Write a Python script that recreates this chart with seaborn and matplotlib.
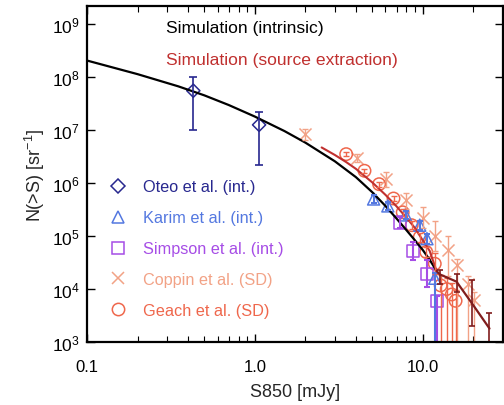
import numpy as np
import matplotlib
matplotlib.use("Agg")
import matplotlib.pyplot as plt
import matplotlib.ticker as mticker
from matplotlib.lines import Line2D
import seaborn as sns

# simulation curves (S850 in mJy, N(>S) in sr^-1)
sim_int_x = [0.1, 0.2, 0.35, 0.5, 0.7, 1.0, 1.5, 2.0, 3.0, 4.0, 5.0, 6.0, 7.0, 8.0, 9.0, 10.0, 11.0, 12.1]
sim_int_y = [2.04e8, 1.13e8, 6.65e7, 4.5e7, 2.95e7, 1.79e7, 9.55e6, 5.77e6, 2.56e6, 1.29e6,
             6.73e5, 3.69e5, 2.12e5, 1.29e5, 8.26e4, 5.48e4, 3.57e4, 2.19e4]

sim_sd_x = [2.5, 3.0, 3.5, 4.0, 5.0, 6.0, 7.0, 8.0, 9.0, 10.0, 11.0, 12.1]
sim_sd_y = [4.68e6, 3.37e6, 2.48e6, 1.85e6, 1.03e6, 5.98e5, 3.6e5, 2.22e5, 1.41e5, 8.3e4, 5.25e4, 2.19e4]

tail_x = [12.1, 12.6, 15.9, 19.8, 25.0]
tail_y = [2.19e4, 1.9e4, 1.38e4, 5.2e3, 1.8e3]
tail_lo = [2.19e4, 1.26e4, 8.9e3, 2.0e3, 1e2]
tail_hi = [2.19e4, 2.24e4, 1.95e4, 1.45e4, 3.5e3]

# observations
oteo_x = [0.43, 1.06]
oteo_y = [5.5e7, 1.25e7]
oteo_lo = [1.0e7, 2.2e6]
oteo_hi = [1.0e8, 2.2e7]

karim_x = [5.1, 6.2, 7.9, 9.6, 10.6, 11.8]
karim_y = [5.0e5, 3.7e5, 2.5e5, 1.6e5, 8.9e4, 1.6e4]
karim_lo = [4.2e5, 3.1e5, 2.1e5, 1.3e5, 7.2e4, 1e2]
karim_hi = [5.9e5, 4.4e5, 3.0e5, 1.9e5, 1.1e5, 2.0e4]

simpson_x = [7.3, 8.8, 10.6, 12.1]
simpson_y = [1.8e5, 5.2e4, 1.95e4, 5.9e3]
simpson_lo = [1.4e5, 3.5e4, 1.1e4, 1e2]
simpson_hi = [2.3e5, 7.7e4, 3.5e4, 7.5e3]

coppin_x = [2.0, 4.05, 6.07, 8.0, 10.1, 11.8, 14.2, 15.9, 18.6, 20.2]
coppin_y = [8.3e6, 3.0e6, 1.17e6, 4.7e5, 2.2e5, 1.0e5, 5.4e4, 2.8e4, 1.26e4, 6.2e3]
coppin_lo = [6.6e6, 2.5e6, 8.5e5, 3.3e5, 1.4e5, 5.3e4, 1.8e4, 1e2, 1e2, 1e2]
coppin_hi = [1.05e7, 3.6e6, 1.6e6, 6.6e5, 3.5e5, 1.9e5, 9.8e4, 3.7e4, 1.8e4, 8.9e3]

geach_x = [3.5, 4.5, 5.5, 6.7, 7.6, 8.6, 9.6, 10.5, 11.8, 12.8, 13.9, 14.9, 15.7]
geach_y = [3.5e6, 1.7e6, 9.5e5, 5.1e5, 2.8e5, 1.6e5, 9.5e4, 5.0e4, 3.0e4, 1.17e4, 1.0e4, 7.9e3, 6.0e3]
geach_lo = [3.2e6, 1.55e6, 8.5e5, 4.5e5, 2.4e5, 1.35e5, 7.8e4, 4.0e4, 1.9e4, 1e2, 1e2, 1e2, 1e2]
geach_hi = [3.8e6, 1.85e6, 1.06e6, 5.8e5, 3.2e5, 1.9e5, 1.15e5, 6.2e4, 4.7e4, 1.85e4, 1.6e4, 1.3e4, 9.5e3]

y_ticks = [1e3, 1e4, 1e5, 1e6, 1e7, 1e8, 1e9]
x_ticks = [0.1, 1, 10]
x_tick_labels = ["0.1", "1.0", "10.0"]

c_oteo = "#28288f"
c_karim = "#5478e0"
c_simpson = "#a64de6"
c_coppin = "#f2a286"
c_geach = "#ef674c"
c_sd = "#c0302f"
c_tail = "#801c1c"

sns.set_style("ticks")
plt.rcParams["font.family"] = ["Liberation Sans", "DejaVu Sans"]
plt.rcParams["mathtext.fontset"] = "custom"
plt.rcParams["mathtext.rm"] = "Liberation Sans"
plt.rcParams["mathtext.it"] = "Liberation Sans:italic"

fig = plt.figure(figsize=(5.04, 4.06), dpi=100)
ax = fig.add_axes([0.1726, 0.155, 0.825, 0.828])


def bars(x, y, lo, hi, color, lw=1.0, cap=2.5):
    x = np.array(x); y = np.array(y)
    err = [y - np.array(lo), np.array(hi) - y]
    ax.errorbar(x, y, yerr=err, fmt="none", ecolor=color, elinewidth=lw, capsize=cap, capthick=lw)


# simulation lines
sns.lineplot(x=sim_int_x, y=sim_int_y, color="black", lw=1.6, sort=False, ax=ax)
sns.lineplot(x=sim_sd_x, y=sim_sd_y, color=c_sd, lw=1.5, sort=False, ax=ax)

# observations
bars(coppin_x, coppin_y, coppin_lo, coppin_hi, c_coppin)
sns.scatterplot(x=coppin_x, y=coppin_y, marker="x", s=75, color=c_coppin, linewidth=1.1, ax=ax)
bars(geach_x, geach_y, geach_lo, geach_hi, c_geach)
sns.scatterplot(x=geach_x, y=geach_y, marker="o", s=80, facecolor="none", edgecolor=c_geach, linewidth=1.1, ax=ax)
bars(simpson_x, simpson_y, simpson_lo, simpson_hi, c_simpson, lw=1.5)
sns.scatterplot(x=simpson_x, y=simpson_y, marker="s", s=75, facecolor="none", edgecolor=c_simpson, linewidth=1.1, ax=ax)
bars(karim_x, karim_y, karim_lo, karim_hi, c_karim, lw=1.5)
sns.scatterplot(x=karim_x, y=karim_y, marker="^", s=75, facecolor="none", edgecolor=c_karim, linewidth=1.1, ax=ax)
bars(oteo_x, oteo_y, oteo_lo, oteo_hi, c_oteo, lw=1.2, cap=3)
sns.scatterplot(x=oteo_x, y=oteo_y, marker="D", s=45, facecolor="none", edgecolor=c_oteo, linewidth=1.1, ax=ax)

# overlapping tail of both simulations
sns.lineplot(x=tail_x, y=tail_y, color=c_tail, lw=1.6, sort=False, ax=ax)
bars(tail_x[1:], tail_y[1:], tail_lo[1:], tail_hi[1:], c_tail, lw=1.2, cap=2.5)

ax.set_xscale("log")
ax.set_yscale("log")
ax.set_xlim(0.1, 30)
ax.set_ylim(1e3, 10 ** 9.34)

ax.xaxis.set_major_locator(mticker.FixedLocator(x_ticks))
ax.xaxis.set_major_formatter(mticker.FixedFormatter(x_tick_labels))
ax.xaxis.set_minor_locator(mticker.LogLocator(base=10, subs=np.arange(2, 10)))
ax.xaxis.set_minor_formatter(mticker.NullFormatter())
ax.yaxis.set_major_locator(mticker.FixedLocator(y_ticks))
ax.yaxis.set_major_formatter(mticker.LogFormatterSciNotation())
ax.yaxis.set_minor_locator(mticker.NullLocator())

ax.tick_params(which="both", direction="in", top=True, right=True, colors="black")
ax.tick_params(axis="x", which="major", length=6, width=1, pad=12, labelsize=12)
ax.tick_params(axis="x", which="minor", length=4, width=0.8, pad=12)
ax.tick_params(axis="y", which="major", length=6, width=1, pad=5, labelsize=12.5)
for s in ax.spines.values():
    s.set_linewidth(1.6)
    s.set_color("black")

ax.set_xlabel("S850 [mJy]", fontsize=13, labelpad=7)
ax.set_ylabel("N(>S) [sr$^{-1}$]", fontsize=13, labelpad=4)

ax.text(0.19, 0.936, "Simulation (intrinsic)", transform=ax.transAxes, fontsize=12.6,
        color="black", va="center")
ax.text(0.19, 0.842, "Simulation (source extraction)", transform=ax.transAxes, fontsize=12.6,
        color=c_sd, va="center")

handles = [
    Line2D([], [], ls="", marker="D", ms=6.7, mfc="none", mec=c_oteo, mew=1.1),
    Line2D([], [], ls="", marker="^", ms=8.7, mfc="none", mec=c_karim, mew=1.1),
    Line2D([], [], ls="", marker="s", ms=8.7, mfc="none", mec=c_simpson, mew=1.1),
    Line2D([], [], ls="", marker="x", ms=8.7, mec=c_coppin, mew=1.1),
    Line2D([], [], ls="", marker="o", ms=8.9, mfc="none", mec=c_geach, mew=1.1),
]
labels = ["Oteo et al. (int.)", "Karim et al. (int.)", "Simpson et al. (int.)",
          "Coppin et al. (SD)", "Geach et al. (SD)"]
leg = ax.legend(handles, labels, loc="upper left", bbox_to_anchor=(0.054, 0.484), frameon=False,
                fontsize=11.7, handlelength=1.0, handletextpad=1.05, labelspacing=0.98,
                borderpad=0, borderaxespad=0,
                labelcolor=[c_oteo, c_karim, c_simpson, c_coppin, c_geach])

fig.savefig("out.png", dpi=100)
